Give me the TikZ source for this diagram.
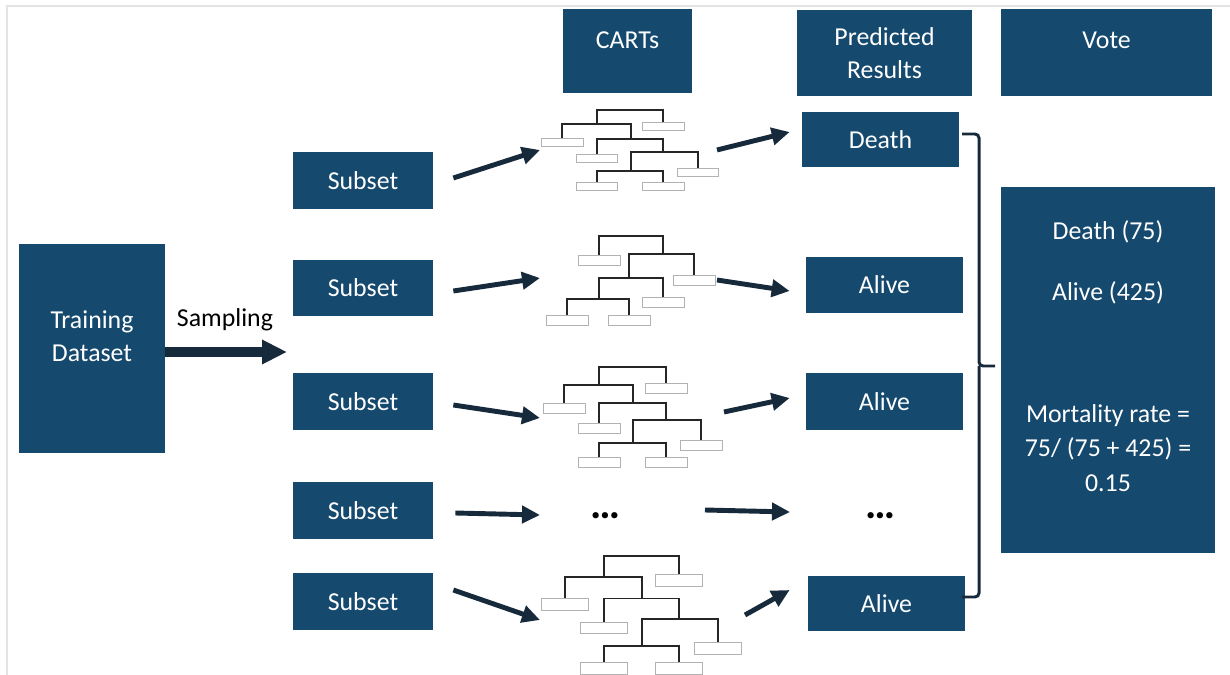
\documentclass[tikz,border=0pt]{standalone}
\usepackage{fontspec}
\setmainfont{Carlito}
\usetikzlibrary{arrows.meta,calc}
\definecolor{boxblue}{RGB}{21,73,110}
\definecolor{arrowblue}{RGB}{23,42,60}
\definecolor{framegray}{RGB}{228,228,228}
\newcommand{\cart}[4]{%
\begin{scope}[shift={(#1,#2)},xscale=#3,yscale=#4]
\draw[treeline] (67,16) -- (67,0) -- (0,0) -- (0,18);
\draw[treeline] (-35,36) -- (-35,18) -- (34,18) -- (34,36);
\draw[treeline] (0,56) -- (0,36) -- (67,36) -- (67,53);
\draw[treeline] (102,73) -- (102,53) -- (34,53) -- (34,76);
\draw[treeline] (0,90) -- (0,76) -- (67,76) -- (67,90);
\foreach \lx/\ly in {67/16,-35/36,0/56,102/73,0/90,67/90}
  \draw[leafline] (\lx-21,\ly) rectangle (\lx+21,\ly+10);
\end{scope}}
\begin{document}
\begin{tikzpicture}[x=0.02cm,y=-0.02cm,
  box/.style={fill=boxblue,text=white,inner sep=0pt,align=center,font=\fontsize{14.7}{19}\selectfont},
  txt/.style={text=white,inner sep=0pt,align=center,font=\fontsize{14.7}{19}\selectfont},
  dots/.style={anchor=base,inner sep=0pt,font=\fontsize{24}{28}\bfseries},
  arr/.style={arrowblue,line width=2.8pt,-{Triangle[length=0.36cm,width=0.34cm]}},
  treeline/.style={black!85,line width=1.1pt},
  leafline/.style={black!30,line width=0.5pt,fill=white}]
\useasboundingbox (0,0) rectangle (1230,675);
\draw[framegray,line width=1.2pt] (7,675) -- (7,6) -- (1230,6);

\node[box,minimum width=2.92cm,minimum height=4.18cm] (train) at (92,348.5) {};
\node[txt] at (92,336) {Training\\Dataset};
\node[font=\fontsize{14.7}{19}\selectfont] (samp) at (225,320) {Sampling};
\coordinate (split) at (287,352);
\draw[arrowblue,line width=5.6pt,-{Triangle[length=0.5cm,width=0.46cm]}] (train.east |- split) -- (split);

\foreach \i/\y in {1/180.5,2/288,3/401.5,4/510.5,5/601.5}
  \node[box,minimum width=2.8cm,minimum height=1.14cm] (s\i) at (363,\y) {Subset};

\node[box,minimum width=2.58cm,minimum height=1.68cm] (carts) at (627.5,51) {};
\node[txt] at (627.5,40) {CARTs};
\node[box,minimum width=3.5cm,minimum height=1.74cm] (pred) at (884.5,53) {Predicted\\Results};
\node[box,minimum width=4.22cm,minimum height=1.74cm] (votehead) at (1106.5,52.5) {};
\node[txt] at (1106.5,40) {Vote};

\node[box,minimum width=3.14cm,minimum height=1.1cm] (r1) at (880.5,139.5) {Death};
\node[box,minimum width=3.14cm,minimum height=1.12cm] (r2) at (884.5,285) {Alive};
\node[box,minimum width=3.14cm,minimum height=1.14cm] (r3) at (884.5,401.5) {Alive};
\node[dots] (r4) at (880,518) {…};
\node[box,minimum width=3.14cm,minimum height=1.1cm] (r5) at (886.5,603.5) {Alive};
\node[dots] (c4) at (605,518) {…};

\node[box,minimum width=4.28cm,minimum height=7.32cm] (vote) at (1108,370) {};
\node[txt] at (1108,232) {Death (75)};
\node[txt] at (1108,293) {Alive (425)};
\node[txt,font=\fontsize{14.7}{19.8}\selectfont] at (1108,448) {Mortality rate =\\75/ (75 + 425) =\\0.15};

\cart{597}{110}{0.99}{0.8}
\cart{599}{367}{1}{1}
\cart{604}{556}{1.12}{1.18}
\draw[treeline] (599,255) -- (599,236) -- (663,236) -- (663,254);
\draw[treeline] (694,275) -- (694,254) -- (629,254) -- (629,278);
\draw[treeline] (663,297) -- (663,278) -- (599,278) -- (599,299);
\draw[treeline] (567,315) -- (567,299) -- (629,299) -- (629,315);
\foreach \lx/\ly in {599/255,694/275,663/297,567/315,629/315}
  \draw[leafline] (\lx-21,\ly) rectangle (\lx+21,\ly+10);

\coordinate (t1in) at (540,150);
\coordinate (t1out) at (717,150);
\coordinate (t2in) at (540,278);
\coordinate (t2out) at (717,280);
\coordinate (t3in) at (540,418);
\coordinate (t3out) at (724,412);
\coordinate (t5in) at (540,620);
\coordinate (t5out) at (745,615);

\draw[arr] ($(s1.east)+(20,-2.5)$) -- (t1in);
\draw[arr] ($(s2.east)+(20,3)$) -- (t2in);
\draw[arr] ($(s3.east)+(20,3.5)$) -- (t3in);
\draw[arr] ($(s4.east)+(22,2.5)$) -- ($(c4.base)+(-65,-3)$);
\draw[arr] ($(s5.east)+(20,-11.5)$) -- (t5in);
\draw[arr] (t1out) -- ($(r1.west)+(-12,-7.5)$);
\draw[arr] (t2out) -- ($(r2.west)+(-16,6)$);
\draw[arr] (t3out) -- ($(r3.west)+(-16,-3.5)$);
\draw[arr] ($(c4.base)+(100,-8)$) -- ($(r4.base)+(-90,-6)$);
\draw[arr] (t5out) -- ($(r5.west)+(-18,-13.5)$);

\draw[arrowblue,line width=1.7pt,rounded corners=0.08cm] (962,134) -| (979,366) -- (995,366);
\draw[arrowblue,line width=1.7pt,rounded corners=0.08cm] (962,597) -| (979,366);
\end{tikzpicture}
\end{document}
